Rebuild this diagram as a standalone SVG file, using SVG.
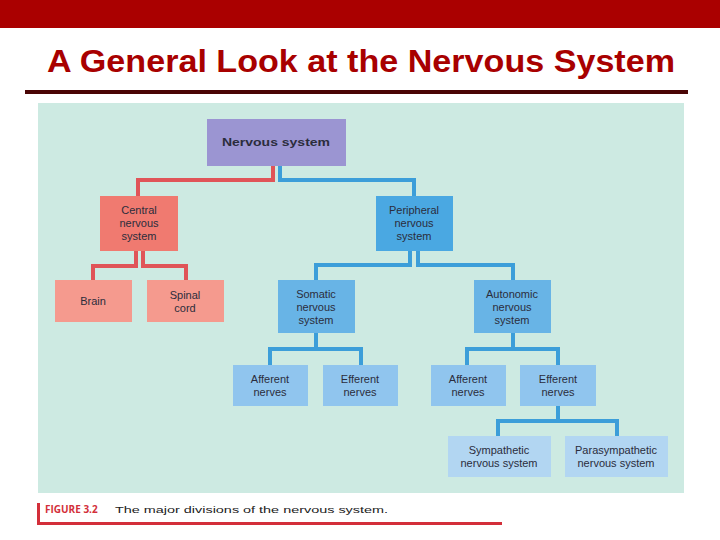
<svg xmlns="http://www.w3.org/2000/svg" width="720" height="540" viewBox="0 0 720 540">
<style>
.t{font-family:"Liberation Sans",Arial,sans-serif;font-size:11px;fill:#2b2d3c;text-anchor:middle;dominant-baseline:central}
.r{fill:none;stroke:#e05458;stroke-width:4}
.b{fill:none;stroke:#3c9ed9;stroke-width:4}
</style>
<rect width="720" height="540" fill="#fff"/>
<rect x="0" y="0" width="720" height="28" fill="#aa0000"/>
<text x="361" y="72" font-family="Liberation Sans,Arial,sans-serif" font-size="32" font-weight="bold" fill="#a80000" text-anchor="middle" textLength="628" lengthAdjust="spacingAndGlyphs">A General Look at the Nervous System</text>
<rect x="25" y="90" width="663" height="4" fill="#4a0505"/>
<rect x="38" y="103" width="646" height="390" fill="#cdeae2"/>
<g id="connectors">
<polyline class="r" points="273,165 273,180 138,180 138,196"/>
<polyline class="b" points="280,165 280,180 414,180 414,196"/>
<polyline class="r" points="136,251 136,266 93,266 93,281" stroke-width="3.5"/>
<polyline class="r" points="143,251 143,266 186,266 186,281" stroke-width="3.5"/>
<polyline class="b" points="410,251 410,265 316,265 316,281" stroke-width="3.5"/>
<polyline class="b" points="418,251 418,265 513,265 513,281" stroke-width="3.5"/>
<polyline class="b" points="316,333 316,349"/>
<polyline class="b" points="270,365 270,349 361,349 361,365"/>
<polyline class="b" points="513,333 513,349"/>
<polyline class="b" points="467,365 467,349 558,349 558,365"/>
<polyline class="b" points="558,406 558,421"/>
<polyline class="b" points="498,436 498,421 617,421 617,436"/>
</g>
<g id="nervous-system">
<rect x="207" y="119" width="139" height="47" fill="#9b95d2"/>
<text class="t" x="276" y="142" font-weight="bold" font-size="14.5" textLength="108" lengthAdjust="spacingAndGlyphs">Nervous system</text>
</g>
<g id="cns">
<rect x="100" y="196" width="78" height="55" fill="#f07a70"/>
<text class="t" x="139" y="210">Central</text><text class="t" x="139" y="223">nervous</text><text class="t" x="139" y="236">system</text>
</g>
<g id="pns">
<rect x="376" y="196" width="77" height="55" fill="#4aa8e2"/>
<text class="t" x="414" y="210">Peripheral</text><text class="t" x="414" y="223">nervous</text><text class="t" x="414" y="236">system</text>
</g>
<g id="brain">
<rect x="55" y="280" width="77" height="42" fill="#f59a8e"/>
<text class="t" x="93" y="301">Brain</text>
</g>
<g id="spinal">
<rect x="147" y="280" width="77" height="42" fill="#f59a8e"/>
<text class="t" x="185" y="295">Spinal</text><text class="t" x="185" y="308">cord</text>
</g>
<g id="somatic">
<rect x="278" y="280" width="77" height="53" fill="#68b4e6"/>
<text class="t" x="316" y="294">Somatic</text><text class="t" x="316" y="307">nervous</text><text class="t" x="316" y="320">system</text>
</g>
<g id="autonomic">
<rect x="474" y="280" width="77" height="53" fill="#68b4e6"/>
<text class="t" x="512" y="294">Autonomic</text><text class="t" x="512" y="307">nervous</text><text class="t" x="512" y="320">system</text>
</g>
<g id="afferent1">
<rect x="233" y="365" width="75" height="41" fill="#90c5ee"/>
<text class="t" x="270" y="379">Afferent</text><text class="t" x="270" y="392">nerves</text>
</g>
<g id="efferent1">
<rect x="323" y="365" width="75" height="41" fill="#90c5ee"/>
<text class="t" x="360" y="379">Efferent</text><text class="t" x="360" y="392">nerves</text>
</g>
<g id="afferent2">
<rect x="431" y="365" width="75" height="41" fill="#90c5ee"/>
<text class="t" x="468" y="379">Afferent</text><text class="t" x="468" y="392">nerves</text>
</g>
<g id="efferent2">
<rect x="520" y="365" width="76" height="41" fill="#90c5ee"/>
<text class="t" x="558" y="379">Efferent</text><text class="t" x="558" y="392">nerves</text>
</g>
<g id="sympathetic">
<rect x="448" y="436" width="103" height="41" fill="#b2d6f2"/>
<text class="t" x="499" y="450">Sympathetic</text><text class="t" x="499" y="463">nervous system</text>
</g>
<g id="parasympathetic">
<rect x="565" y="436" width="103" height="41" fill="#b2d6f2"/>
<text class="t" x="616" y="450">Parasympathetic</text><text class="t" x="616" y="463">nervous system</text>
</g>
<rect x="37" y="503" width="3" height="22" fill="#d32f3a"/>
<rect x="37" y="522" width="465" height="3" fill="#d32f3a"/>
<text x="45" y="513" font-family="Open Sans,Liberation Sans,sans-serif" font-size="10" font-weight="bold" fill="#d32f3a">FIGURE 3.2</text>
<text x="115" y="513" font-family="Liberation Sans,sans-serif" font-size="9.5" fill="#222" textLength="273" lengthAdjust="spacingAndGlyphs">The major divisions of the nervous system.</text>
</svg>
